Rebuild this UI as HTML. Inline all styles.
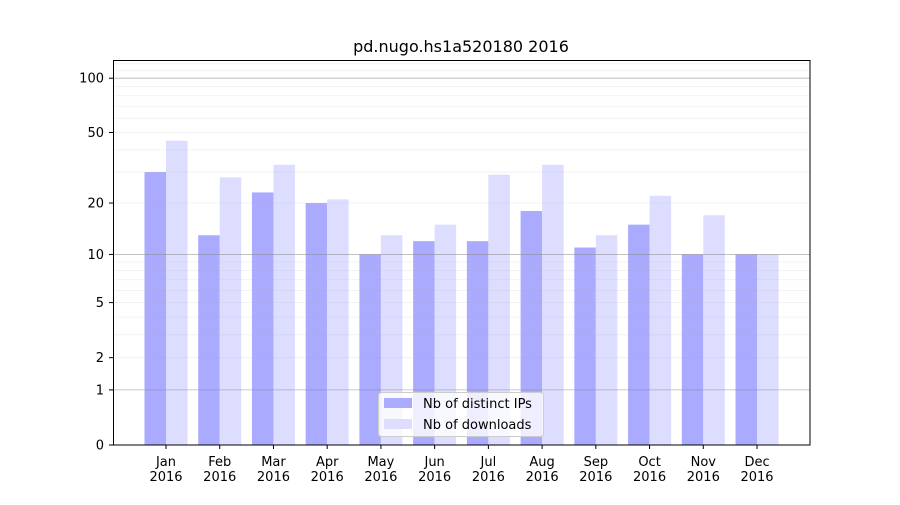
<!DOCTYPE html>
<html><head><style>body{margin:0;background:#fff}svg{font-family:"DejaVu Sans","Liberation Sans",sans-serif}</style></head>
<body>
<svg id="s" width="900" height="500" xmlns="http://www.w3.org/2000/svg"></svg>
<script>
var s=document.getElementById('s'),h='';
function Y(v){return 445-183*Math.log10(1+v);}
var ips=[30,13,23,20,10,12,12,18,11,15,10,10],dl=[45,28,33,21,13,15,29,33,13,22,17,10];
var m=['Jan','Feb','Mar','Apr','May','Jun','Jul','Aug','Sep','Oct','Nov','Dec'];
h+='<rect x="0" y="0" width="900" height="500" fill="#fff"/>';
for(var i=0;i<12;i++){var c=166+i*53.73;
h+='<rect x="'+(c-21.5)+'" y="'+Y(ips[i])+'" width="21.5" height="'+(445-Y(ips[i]))+'" fill="#aaaaff"/>';
h+='<rect x="'+c+'" y="'+Y(dl[i])+'" width="21.5" height="'+(445-Y(dl[i]))+'" fill="#ddddff"/>';
h+='<line x1="'+c+'" x2="'+c+'" y1="445" y2="449" stroke="#000"/>';
h+='<text x="'+c+'" y="466" font-size="13" text-anchor="middle">'+m[i]+'</text><text x="'+c+'" y="481" font-size="13" text-anchor="middle">2016</text>';}
var minor=[2,3,4,5,6,7,8,9,20,30,40,50,60,70,80,90,110,120];
minor.forEach(function(v){var y=Y(v);if(y>60)h+='<line x1="113" x2="810" y1="'+y+'" y2="'+y+'" stroke="#b0b0b0" stroke-opacity="0.2" stroke-width="0.8"/>';});
[1,10,100].forEach(function(v){var y=Y(v);h+='<line x1="113" x2="810" y1="'+y+'" y2="'+y+'" stroke="#888" stroke-opacity="0.6" stroke-width="0.8"/>';});
[0,1,2,5,10,20,50,100].forEach(function(v){var y=Y(v);h+='<line x1="109" x2="113" y1="'+y+'" y2="'+y+'" stroke="#000"/><text x="104" y="'+(y+4.5)+'" font-size="13" text-anchor="end">'+v+'</text>';});
h+='<rect x="113.5" y="60.5" width="696.5" height="384.5" fill="none" stroke="#000"/>';
h+='<text x="461" y="52" font-size="16" text-anchor="middle">pd.nugo.hs1a520180 2016</text>';
h+='<rect x="378.5" y="392.5" width="165" height="44" rx="3" fill="#fff" fill-opacity="0.8" stroke="#ccc"/>';
h+='<rect x="384" y="398" width="28" height="10" fill="#aaaaff"/><text x="423" y="408" font-size="13">Nb of distinct IPs</text>';
h+='<rect x="384" y="419" width="28" height="10" fill="#ddddff"/><text x="423" y="429" font-size="13">Nb of downloads</text>';
s.innerHTML=h;
</script>
</body></html>
